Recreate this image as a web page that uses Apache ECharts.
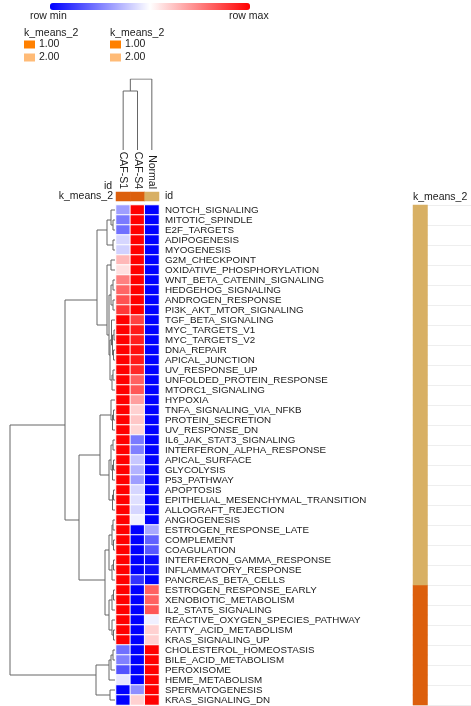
<!DOCTYPE html>
<html><head><meta charset="utf-8">
<script src="https://cdn.jsdelivr.net/npm/echarts@6/dist/echarts.min.js"></script>
<style>html,body{margin:0;padding:0;background:#fff}#c{width:471px;height:706px}</style>
</head><body><div id="c"></div>
<script>
const rowNames = ['NOTCH_SIGNALING','MITOTIC_SPINDLE','E2F_TARGETS','ADIPOGENESIS','MYOGENESIS','G2M_CHECKPOINT','OXIDATIVE_PHOSPHORYLATION','WNT_BETA_CATENIN_SIGNALING','HEDGEHOG_SIGNALING','ANDROGEN_RESPONSE','PI3K_AKT_MTOR_SIGNALING','TGF_BETA_SIGNALING','MYC_TARGETS_V1','MYC_TARGETS_V2','DNA_REPAIR','APICAL_JUNCTION','UV_RESPONSE_UP','UNFOLDED_PROTEIN_RESPONSE','MTORC1_SIGNALING','HYPOXIA','TNFA_SIGNALING_VIA_NFKB','PROTEIN_SECRETION','UV_RESPONSE_DN','IL6_JAK_STAT3_SIGNALING','INTERFERON_ALPHA_RESPONSE','APICAL_SURFACE','GLYCOLYSIS','P53_PATHWAY','APOPTOSIS','EPITHELIAL_MESENCHYMAL_TRANSITION','ALLOGRAFT_REJECTION','ANGIOGENESIS','ESTROGEN_RESPONSE_LATE','COMPLEMENT','COAGULATION','INTERFERON_GAMMA_RESPONSE','INFLAMMATORY_RESPONSE','PANCREAS_BETA_CELLS','ESTROGEN_RESPONSE_EARLY','XENOBIOTIC_METABOLISM','IL2_STAT5_SIGNALING','REACTIVE_OXYGEN_SPECIES_PATHWAY','FATTY_ACID_METABOLISM','KRAS_SIGNALING_UP','CHOLESTEROL_HOMEOSTASIS','BILE_ACID_METABOLISM','PEROXISOME','HEME_METABOLISM','SPERMATOGENESIS','KRAS_SIGNALING_DN'];
const colNames = ['CAF-S1','CAF-S4','Normal'];
// row-scaled values (0 = row min, 1 = row max)
const cafS1 = [0.31,0.24,0.22,0.42,0.41,0.64,0.56,0.75,0.80,0.84,0.89,1,1,1,1,1,1,1,1,1,1,1,1,1,1,1,1,1,1,1,1,1,1,1,1,1,1,1,1,1,1,1,1,1,0.22,0.25,0.16,0.45,0,0];
const cafS4 = [1,1,1,1,1,1,1,1,1,1,1,0.87,0.95,0.94,0.97,0.95,0.92,0.81,0.83,0.69,0.59,0.61,0.58,0.24,0.25,0.39,0.35,0.31,0.42,0.44,0.42,0.47,0,0,0,0,0,0.1,0,0,0,0,0,0,0,0,0,0,0.28,0.59];
const normalVals = [0,0,0,0,0,0,0,0,0,0,0,0,0,0,0,0,0,0,0,0,0,0,0,0,0,0,0,0,0,0,0,0,0.33,0.19,0.17,0.02,0.03,0,0.81,0.81,0.83,0.47,0.59,0.59,1,1,1,1,1,1];
const colCluster = [1,1,2];
const rowCluster = [2,2,2,2,2,2,2,2,2,2,2,2,2,2,2,2,2,2,2,2,2,2,2,2,2,2,2,2,2,2,2,2,2,2,2,2,2,2,1,1,1,1,1,1,1,1,1,1,1,1];
const clusterLabels = ['1.00','2.00'];
// hclust-style merges: negative = leaf (row number), positive = earlier merge step; third = height
const rowMerges = [
 [-2,-3,2],[-1,1,4],[-4,-5,2],[2,3,8],[-6,-7,4],[-8,-9,2],[-10,-11,2],[6,7,4],
 [-13,-14,1],[-15,-16,1.5],[9,10,2.5],[-12,11,3.5],[-17,-18,2],[13,-19,3],[12,14,5],[8,15,6],
 [5,16,8],[4,17,18],
 [-21,-22,1.5],[19,-23,2.5],[-20,20,4],[-24,-25,2],[-26,-27,1.5],[23,-28,2.5],[22,24,4],
 [-29,-30,1.5],[26,-31,2.5],[25,27,6],[21,28,15],
 [-32,-33,2],[-34,-35,1.5],[30,31,3],[-36,-37,1.5],[33,-38,3],[32,34,6],
 [-39,-40,1.5],[36,-41,3],[-43,-44,1.5],[-42,38,3],[37,39,6],[35,40,10],[29,41,36],[18,42,50],
 [-45,-46,2],[44,-47,4],[45,-48,6],[-49,-50,5],[46,47,19],[43,48,105]
];
const colMerges = [[-1,-2,59],[1,-3,71]];

function dendroSegments(merges, horizontal) {
  const lo = [], hi = [], hts = [], segs = [];
  const get = (k) => k < 0 ? [-k - 1, -k - 1, 0] : [lo[k - 1], hi[k - 1], hts[k - 1]];
  merges.forEach((m) => {
    const a = get(m[0]), b = get(m[1]); const h = m[2];
    const pa = (a[0] + a[1]) / 2, pb = (b[0] + b[1]) / 2;
    const pts = [[pa, a[2]], [pa, h], [pb, h], [pb, b[2]]];
    segs.push({ coords: pts.map(p => horizontal ? [p[1], p[0]] : [p[0], p[1]]) });
    lo.push(Math.min(a[0], b[0])); hi.push(Math.max(a[1], b[1])); hts.push(h);
  });
  return segs;
}

const heatData = [];
const vals = [cafS1, cafS4, normalVals];
rowNames.forEach((r, i) => { vals.forEach((v, c) => heatData.push([c, i, v[i]])); });
const clusterColors = { 1: '#DC5F0C', 2: '#D8B064' };
const legendColors = { 1: '#FF8000', 2: '#FFBB77' };

const font = 'Liberation Sans, Arial, Helvetica, sans-serif';
const txt = (size) => ({ fontSize: size, fontWeight: 'normal', color: '#1a1a1a', fontFamily: font });
const chart = echarts.init(document.getElementById('c'), null, { renderer: 'canvas' });
const colAnnSeries = clusterLabels.map((lab, k) => ({
  name: lab, type: 'heatmap', xAxisIndex: 1, yAxisIndex: 1,
  itemStyle: { color: clusterColors[k + 1] },
  data: colNames.map((n, c) => colCluster[c] === k + 1 ? [c, 0, 1] : null).filter(Boolean)
}));
const rowAnnSeries = clusterLabels.map((lab, k) => ({
  name: lab, type: 'heatmap', xAxisIndex: 4, yAxisIndex: 5,
  itemStyle: { color: clusterColors[k + 1] },
  data: rowNames.map((n, i) => rowCluster[i] === k + 1 ? [0, i, 1] : null).filter(Boolean)
}));
const legendData = clusterLabels.map((lab, k) => ({ name: lab, itemStyle: { color: legendColors[k + 1] } }));
const mkLegend = (left) => ({ orient: 'vertical', left: left, top: 39, itemWidth: 11, itemHeight: 8, itemGap: 2, padding: 0, selectedMode: false,
  icon: 'rect', textStyle: Object.assign(txt(10.5), { padding: [0, 0, 0, -1] }), data: legendData });

chart.setOption({
  animation: false,
  textStyle: { fontFamily: font },
  title: [
    { text: 'row min', left: 30, top: 11, padding: 0, textStyle: txt(10.5) },
    { text: 'row max', left: 229, top: 11, padding: 0, textStyle: txt(10.5) },
    { text: 'k_means_2', left: 24, top: 28, padding: 0, textStyle: txt(10.5) },
    { text: 'k_means_2', left: 110, top: 28, padding: 0, textStyle: txt(10.5) },
    { text: 'id', left: 104, top: 181, padding: 0, textStyle: txt(10.5) },
    { text: 'k_means_2', left: 413, top: 192, padding: 0, textStyle: txt(10.5) }
  ],
  legend: [mkLegend(24), mkLegend(110)],
  visualMap: { type: 'continuous', seriesIndex: 0, min: 0, max: 1, orient: 'horizontal', left: 50, top: 3,
    itemWidth: 7, itemHeight: 200, padding: 0, calculable: false, text: null, showLabel: false,
    inRange: { color: ['#0000FF', '#FFFFFF', '#FF0000'] } },
  grid: [
    { left: 116, top: 205, width: 43, height: 500 },   // 0 heatmap
    { left: 116, top: 192, width: 43, height: 9 },     // 1 column annotation
    { left: 116, top: 79, width: 43, height: 71 },     // 2 column dendrogram
    { left: 5, top: 205, width: 110, height: 500 },    // 3 row dendrogram
    { left: 413, top: 205, width: 58, height: 500 }    // 4 row annotation
  ],
  xAxis: [
    { gridIndex: 0, type: 'category', data: colNames, show: false },
    { gridIndex: 1, type: 'category', data: colNames, position: 'top', axisLine: { show: false }, axisTick: { show: false },
      axisLabel: Object.assign(txt(10.5), { rotate: 90, margin: 3, interval: 0 }) },
    { gridIndex: 2, type: 'value', min: -0.5, max: 2.5, show: false },
    { gridIndex: 3, type: 'value', min: 0, max: 110, inverse: true, show: false },
    { gridIndex: 4, type: 'category', data: ['k', 'a', 'b', 'c'], show: false }
  ],
  yAxis: [
    { gridIndex: 0, type: 'category', data: rowNames, inverse: true, position: 'right', axisLine: { show: false }, axisTick: { show: false },
      axisLabel: Object.assign(txt(9.8), { margin: 6, interval: 0 }) },
    { gridIndex: 1, type: 'category', data: ['k_means_2'], axisLine: { show: false }, axisTick: { show: false },
      axisLabel: Object.assign(txt(10.5), { margin: 3 }) },
    { gridIndex: 1, type: 'category', data: ['id'], position: 'right', axisLine: { show: false }, axisTick: { show: false },
      axisLabel: Object.assign(txt(10.5), { margin: 6 }) },
    { gridIndex: 2, type: 'value', min: 0, max: 71, show: false },
    { gridIndex: 3, type: 'value', min: -0.5, max: 49.5, inverse: true, show: false },
    { gridIndex: 4, type: 'category', data: rowNames, inverse: true, axisLine: { show: false }, axisTick: { show: false },
      axisLabel: { show: false }, splitLine: { show: true, lineStyle: { color: '#eeeeee', width: 1 } } }
  ],
  series: [
    { type: 'heatmap', xAxisIndex: 0, yAxisIndex: 0, data: heatData, itemStyle: { borderColor: '#fff', borderWidth: 1 } },
    ...colAnnSeries,
    { type: 'lines', coordinateSystem: 'cartesian2d', xAxisIndex: 2, yAxisIndex: 3, polyline: true, silent: true,
      lineStyle: { color: '#666', width: 1, opacity: 1 }, data: dendroSegments(colMerges, false) },
    { type: 'lines', coordinateSystem: 'cartesian2d', xAxisIndex: 3, yAxisIndex: 4, polyline: true, silent: true,
      lineStyle: { color: '#666', width: 1, opacity: 1 }, data: dendroSegments(rowMerges, true) },
    ...rowAnnSeries
  ]
});
</script></body></html>
